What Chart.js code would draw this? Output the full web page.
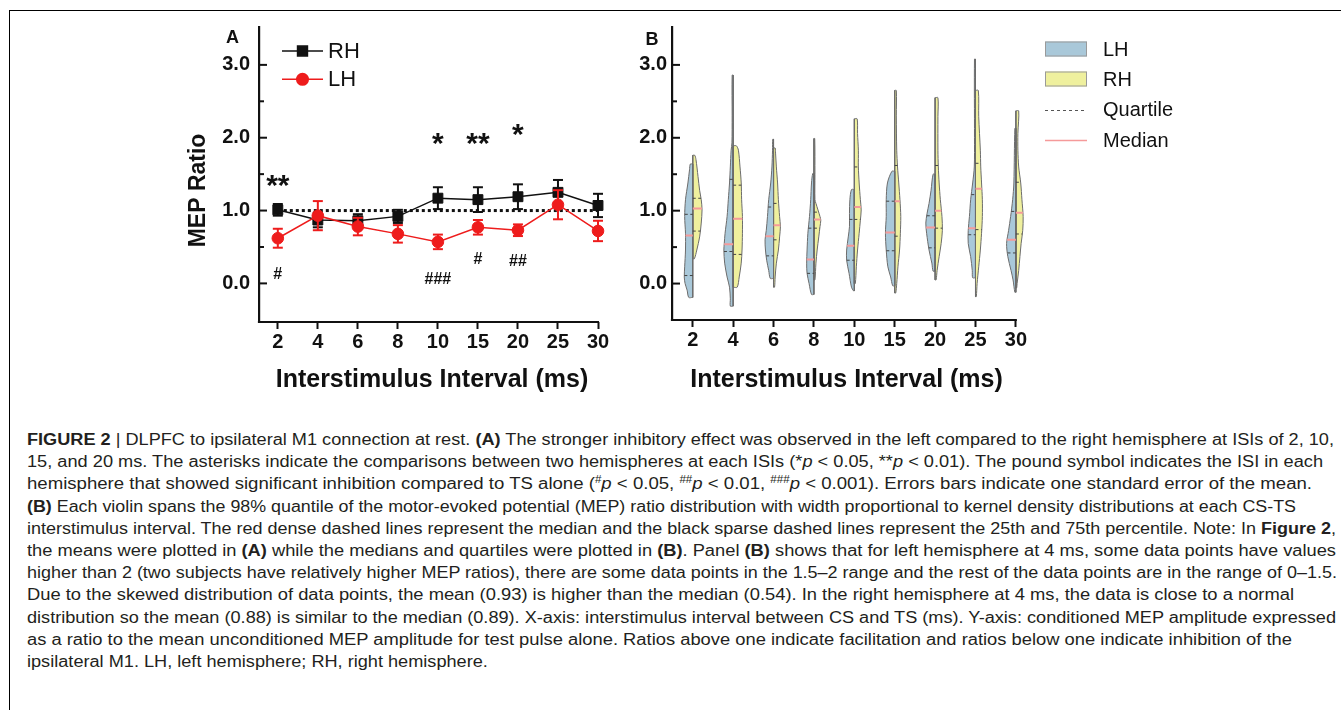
<!DOCTYPE html>
<html>
<head>
<meta charset="utf-8">
<script src="https://cdn.jsdelivr.net/npm/chart.js@4.4.0/dist/chart.umd.min.js"></script>
<style>
  html, body { margin: 0; padding: 0; background: #fff; }
  body { width: 1341px; height: 710px; position: relative; overflow: hidden; font-family: "Liberation Sans", Arial, sans-serif; }
  #frame { position: absolute; left: 9px; top: 10px; width: 1400px; height: 760px; border-left: 1px solid #000; border-top: 1px solid #000; }
  #chartA { position: absolute; left: 180px; top: 20px; }
  #chartB { position: absolute; left: 620px; top: 20px; }
  #caption { position: absolute; left: 27px; top: 429px; font-size: 16px; line-height: 22.2px; color: #231f20; white-space: nowrap; }
  #caption .l { display: inline-block; transform-origin: 0 0; }
  #caption sup { font-size: 10px; vertical-align: 6px; line-height: 0; }
</style>
</head>
<body>
<div id="frame"></div>
<canvas id="chartA" width="440" height="380"></canvas>
<canvas id="chartB" width="721" height="380"></canvas>
<div id="caption">
<div><span class="l"><b>FIGURE 2</b> | DLPFC to ipsilateral M1 connection at rest. <b>(A)</b> The stronger inhibitory effect was observed in the left compared to the right hemisphere at ISIs of 2, 10,</span></div>
<div><span class="l">15, and 20 ms. The asterisks indicate the comparisons between two hemispheres at each ISIs (*<i>p</i> &lt; 0.05, **<i>p</i> &lt; 0.01). The pound symbol indicates the ISI in each</span></div>
<div><span class="l">hemisphere that showed significant inhibition compared to TS alone (<sup>#</sup><i>p</i> &lt; 0.05, <sup>##</sup><i>p</i> &lt; 0.01, <sup>###</sup><i>p</i> &lt; 0.001). Errors bars indicate one standard error of the mean.</span></div>
<div><span class="l"><b>(B)</b> Each violin spans the 98% quantile of the motor-evoked potential (MEP) ratio distribution with width proportional to kernel density distributions at each CS-TS</span></div>
<div><span class="l">interstimulus interval. The red dense dashed lines represent the median and the black sparse dashed lines represent the 25th and 75th percentile. Note: In <b>Figure 2</b>,</span></div>
<div><span class="l">the means were plotted in <b>(A)</b> while the medians and quartiles were plotted in <b>(B)</b>. Panel <b>(B)</b> shows that for left hemisphere at 4 ms, some data points have values</span></div>
<div><span class="l">higher than 2 (two subjects have relatively higher MEP ratios), there are some data points in the 1.5–2 range and the rest of the data points are in the range of 0–1.5.</span></div>
<div><span class="l">Due to the skewed distribution of data points, the mean (0.93) is higher than the median (0.54). In the right hemisphere at 4 ms, the data is close to a normal</span></div>
<div><span class="l">distribution so the mean (0.88) is similar to the median (0.89). X-axis: interstimulus interval between CS and TS (ms). Y-axis: conditioned MEP amplitude expressed</span></div>
<div><span class="l">as a ratio to the mean unconditioned MEP amplitude for test pulse alone. Ratios above one indicate facilitation and ratios below one indicate inhibition of the</span></div>
<div><span class="l">ipsilateral M1. LH, left hemisphere; RH, right hemisphere.</span></div>
</div>
<script>
const isiLabels = ['2', '4', '6', '8', '10', '15', '20', '25', '30'];
const yTickValues = [0, 0.5, 1, 1.5, 2, 2.5, 3];
const refLevel = 1.0;

// panel A: mean MEP ratio +- SEM
const rhMean = [1.01, 0.87, 0.86, 0.92, 1.17, 1.15, 1.19, 1.25, 1.07];
const rhSem  = [0.08, 0.10, 0.09, 0.09, 0.15, 0.17, 0.17, 0.17, 0.16];
const lhMean = [0.62, 0.93, 0.78, 0.68, 0.57, 0.77, 0.73, 1.08, 0.72];
const lhSem  = [0.13, 0.20, 0.12, 0.12, 0.10, 0.10, 0.08, 0.20, 0.14];

// significance marks
const betweenMarks = ['**', '', '', '', '*', '**', '*', '', ''];
const betweenY     = [1.43, null, null, null, 2.0, 2.0, 2.12, null, null];
const withinMarks  = ['#', '', '', '', '###', '#', '##', '', ''];
const withinY      = [0.13, null, null, null, 0.07, 0.34, 0.31, null, null];

// panel B: violin outlines, [ratio, half width in category units], top to bottom
const lhOutline = [
  [[1.64,.06],[1.56,.08],[1.38,.12],[1.15,.18],[0.92,.20],[0.69,.18],[0.46,.18],[0.23,.20],[0.09,.21],[0,.19],[-0.09,.14],[-0.19,.10]],
  [[2.86,.025],[2.3,.025],[1.93,.03],[1.83,.05],[1.6,.07],[1.38,.09],[1.15,.12],[0.92,.15],[0.69,.20],[0.55,.22],[0.46,.23],[0.28,.21],[0.09,.15],[-0.05,.09],[-0.21,.07],[-0.31,.07]],
  [[1.98,.02],[1.83,.025],[1.6,.04],[1.38,.07],[1.15,.12],[0.92,.15],[0.73,.18],[0.6,.21],[0.46,.20],[0.32,.17],[0.18,.12],[0.07,.08]],
  [[1.51,.03],[1.38,.06],[1.15,.08],[0.92,.11],[0.69,.15],[0.46,.17],[0.28,.18],[0.14,.17],[0,.12],[-0.15,.06]],
  [[1.29,.07],[1.15,.11],[0.96,.12],[0.78,.12],[0.64,.15],[0.46,.19],[0.32,.19],[0.14,.13],[-0.05,.07],[-0.10,.02]],
  [[1.54,.07],[1.38,.18],[1.15,.21],[0.92,.21],[0.69,.23],[0.46,.21],[0.23,.17],[0.09,.10],[-0.03,.05]],
  [[1.5,.05],[1.28,.10],[1.1,.15],[0.96,.20],[0.83,.23],[0.69,.21],[0.46,.15],[0.28,.08],[0.17,.05]],
  [[3.08,.025],[2.0,.025],[1.6,.03],[1.38,.07],[1.15,.12],[0.92,.15],[0.73,.18],[0.55,.18],[0.37,.12],[0.18,.08],[0.08,.07]],
  [[2.13,.025],[1.38,.05],[1.15,.08],[0.92,.13],[0.73,.18],[0.55,.23],[0.37,.20],[0.18,.12],[0.05,.07],[-0.12,.025]]
];
const rhOutline = [
  [[1.76,.05],[1.70,.08],[1.47,.13],[1.28,.17],[1.15,.21],[1.01,.23],[0.83,.21],[0.64,.17],[0.46,.10],[0.34,.04]],
  [[1.89,.08],[1.83,.13],[1.6,.17],[1.38,.20],[1.15,.21],[0.92,.23],[0.69,.23],[0.46,.22],[0.28,.20],[0.09,.15],[-0.05,.10]],
  [[1.86,.04],[1.79,.05],[1.6,.07],[1.38,.10],[1.15,.12],[0.92,.15],[0.78,.17],[0.64,.15],[0.46,.12],[0.28,.07],[0.09,.04],[-0.05,.025]],
  [[1.99,.02],[1.5,.025],[1.15,.025],[1.1,.05],[1.01,.10],[0.92,.15],[0.87,.17],[0.78,.15],[0.64,.12],[0.46,.08],[0.28,.05],[0.05,.025]],
  [[2.26,.07],[2.06,.08],[1.83,.10],[1.6,.10],[1.38,.12],[1.15,.15],[1.01,.17],[0.87,.15],[0.69,.12],[0.46,.08],[0.23,.05],[0,.025]],
  [[2.65,.04],[2.3,.04],[1.83,.05],[1.6,.07],[1.38,.10],[1.15,.13],[0.92,.15],[0.69,.14],[0.46,.12],[0.23,.08],[0,.05],[-0.13,.025]],
  [[2.55,.07],[2.29,.07],[1.83,.07],[1.6,.08],[1.38,.10],[1.15,.13],[0.92,.17],[0.73,.18],[0.55,.15],[0.37,.10],[0.18,.05],[0.05,.025]],
  [[2.65,.07],[2.29,.08],[1.83,.12],[1.6,.13],[1.38,.15],[1.15,.17],[0.92,.17],[0.69,.15],[0.46,.12],[0.23,.08],[0,.04],[-0.18,.02]],
  [[2.37,.07],[2.06,.05],[1.83,.05],[1.6,.07],[1.38,.12],[1.15,.15],[0.92,.18],[0.73,.17],[0.55,.13],[0.37,.10],[0.18,.07],[0,.03],[-0.06,.02]]
];
const lhMedian = [0.66, 0.54, 0.65, 0.33, 0.52, 0.70, 0.77, 0.76, 0.60];
const lhQ1     = [0.11, 0.44, 0.38, 0.14, 0.32, 0.45, 0.49, 0.67, 0.42];
const lhQ3     = [0.95, 1.43, 1.05, 0.76, 0.88, 1.13, 0.93, 1.22, 0.99];
const rhMedian = [1.03, 0.89, 0.80, 0.88, 1.05, 1.13, 1.00, 1.30, 0.97];
const rhQ1     = [0.72, 0.40, 0.60, 0.76, 0.88, 0.65, 0.76, 0.74, 0.68];
const rhQ3     = [1.17, 1.35, 1.10, 0.98, 1.60, 1.62, 1.62, 1.65, 1.39];

const FONT = '"Liberation Sans", Arial, sans-serif';
const INK = '#111';
const RED = '#ee1c1c';
const BLUE = '#a9c8d9';
const YELLOW = '#eff09e';
const EDGE = '#6c6c6c';
const MEDIAN = '#f59a9a';

Chart.defaults.font.family = FONT;
Chart.defaults.color = INK;
Chart.defaults.animation = false;
Chart.defaults.events = [];
Chart.defaults.plugins.legend.display = false;
Chart.defaults.plugins.tooltip.enabled = false;

function seriesPts(mean) { return mean.map((m, i) => ({x: i, y: m})); }
function capPts(mean, sem) {
  const pts = [];
  mean.forEach((m, i) => pts.push({x: i, y: m - sem[i]}, {x: i, y: m + sem[i]}));
  return pts;
}
function stemPts(mean, sem) {
  const pts = [];
  mean.forEach((m, i) => pts.push({x: i, y: m - sem[i]}, {x: i, y: m + sem[i]}, {x: i, y: null}));
  return pts;
}

// y ticks point into the plot; the x axis line stops at the last ISI
const axisMarks = {
  id: 'axisMarks',
  afterDraw(chart) {
    const {ctx, chartArea, scales: {x, y}} = chart;
    ctx.save();
    ctx.strokeStyle = INK;
    ctx.lineWidth = 2;
    y.ticks.forEach(t => {
      const py = y.getPixelForValue(t.value);
      const len = Number.isInteger(t.value) ? 8 : 5;
      ctx.beginPath();
      ctx.moveTo(chartArea.left, py);
      ctx.lineTo(chartArea.left + len, py);
      ctx.stroke();
    });
    ctx.lineWidth = 2.2;
    ctx.beginPath();
    ctx.moveTo(chartArea.left - 1.1, chartArea.bottom);
    ctx.lineTo(x.getPixelForValue(isiLabels.length - 1) + 1, chartArea.bottom);
    ctx.stroke();
    ctx.restore();
  }
};

function axisConfig(xmin, xmax, ymin, ymax, yWidth, xHeight, yTitle, xTitle, yPad) {
  return {
    x: {
      type: 'linear', min: xmin, max: xmax,
      afterBuildTicks: s => { s.ticks = isiLabels.map((_, i) => ({value: i})); },
      afterFit: s => { s.height = xHeight; s.paddingLeft = 0; s.paddingRight = 0; },
      ticks: { callback: v => isiLabels[v], font: {size: 20, weight: 'bold'}, color: INK, padding: 1, maxRotation: 0, autoSkip: false },
      grid: { display: true, drawOnChartArea: false, drawTicks: true, tickLength: 7, tickColor: INK, tickWidth: 2 },
      border: { display: false },
      title: { display: true, text: xTitle, font: {size: 25, weight: 'bold'}, color: INK, padding: {top: 0, bottom: 5} }
    },
    y: {
      type: 'linear', min: ymin, max: ymax,
      afterBuildTicks: s => { s.ticks = yTickValues.map(v => ({value: v})); },
      afterFit: s => { s.width = yWidth; s.paddingTop = 0; s.paddingBottom = 0; },
      ticks: { callback: v => Number.isInteger(v) ? v.toFixed(1) : '', font: {size: 20, weight: 'bold'}, color: INK, padding: yPad },
      grid: { display: false, drawOnChartArea: false, drawTicks: false },
      border: { display: true, color: INK, width: 2.2 },
      title: { display: !!yTitle, text: yTitle, font: {size: 23, weight: 'bold'}, color: INK, padding: {top: 5, bottom: 0} }
    }
  };
}

// ---------- panel A ----------
const panelAExtras = {
  id: 'panelAExtras',
  afterDraw(chart) {
    const {ctx, scales: {x, y}} = chart;
    ctx.save();
    ctx.fillStyle = INK;
    ctx.textAlign = 'center';
    ctx.textBaseline = 'middle';
    ctx.font = 'bold 18px ' + FONT;
    ctx.fillText('A', 52.6, 18);
    // significance marks, centred on the glyph
    ctx.textBaseline = 'alphabetic';
    ctx.font = 'bold 30px ' + FONT;
    betweenMarks.forEach((m, i) => {
      if (m) ctx.fillText(m, x.getPixelForValue(i), y.getPixelForValue(betweenY[i]) + 15.5);
    });
    ctx.font = 'bold 16px ' + FONT;
    withinMarks.forEach((m, i) => {
      if (m) ctx.fillText(m, x.getPixelForValue(i), y.getPixelForValue(withinY[i]) + 5.5);
    });
    // legend: line with marker, same style as the series
    const items = [chart.data.datasets[3], chart.data.datasets[0]];
    items.forEach((ds, k) => {
      const cy = 31 + k * 28.3;
      ctx.strokeStyle = ds.borderColor;
      ctx.lineWidth = 1.5;
      ctx.beginPath(); ctx.moveTo(102, cy); ctx.lineTo(143, cy); ctx.stroke();
      ctx.fillStyle = ds.backgroundColor;
      Chart.helpers.drawPoint(ctx, {pointStyle: ds.pointStyle, radius: ds.pointRadius, rotation: 0, borderWidth: 1}, 122.5, cy);
      ctx.fillStyle = INK;
      ctx.textAlign = 'left';
      ctx.textBaseline = 'middle';
      ctx.font = '22px ' + FONT;
      ctx.fillText(ds.label, 148, cy + 1);
    });
    ctx.restore();
  }
};

new Chart(document.getElementById('chartA'), {
  type: 'line',
  data: {
    datasets: [
      { label: 'LH', data: seriesPts(lhMean), borderColor: RED, backgroundColor: RED, borderWidth: 1.5,
        pointStyle: 'circle', pointRadius: 5.8, pointBorderWidth: 1, pointBackgroundColor: RED, pointBorderColor: RED, tension: 0 },
      { label: 'LH caps', data: capPts(lhMean, lhSem), showLine: false, pointStyle: 'line',
        pointRadius: 5, pointBorderWidth: 2, pointBorderColor: RED },
      { label: 'LH sem', data: stemPts(lhMean, lhSem), borderColor: RED, borderWidth: 2, pointRadius: 0, spanGaps: false },
      { label: 'RH', data: seriesPts(rhMean), borderColor: INK, backgroundColor: INK, borderWidth: 1.5,
        pointStyle: 'rect', pointRadius: 7, pointBorderWidth: 1, pointBackgroundColor: INK, pointBorderColor: INK, tension: 0 },
      { label: 'RH caps', data: capPts(rhMean, rhSem), showLine: false, pointStyle: 'line',
        pointRadius: 5, pointBorderWidth: 2, pointBorderColor: INK },
      { label: 'RH sem', data: stemPts(rhMean, rhSem), borderColor: INK, borderWidth: 2, pointRadius: 0, spanGaps: false },
      { label: 'TS alone', data: [{x: 0, y: refLevel}, {x: isiLabels.length - 1, y: refLevel}],
        borderColor: INK, borderWidth: 3, borderDash: [3, 3], pointRadius: 0 }
    ].map(d => Object.assign(d, {clip: false}))
  },
  options: {
    responsive: false,
    layout: { autoPadding: false, padding: {left: 0, right: 22, top: 7, bottom: 0} },
    scales: axisConfig(-0.47, 8, -0.53, 3.52, 79, 78, 'MEP Ratio\u00a0\u00a0\u00a0\u00a0\u00a0', '\u00a0Interstimulus Interval (ms)', 9)
  },
  plugins: [axisMarks, panelAExtras]
});

// ---------- panel B ----------
function widthAt(outline, v) {
  for (let k = 0; k < outline.length - 1; k++) {
    const [v0, w0] = outline[k], [v1, w1] = outline[k + 1];
    if (v <= v0 && v >= v1) return w0 + (w1 - w0) * (v0 - v) / (v0 - v1);
  }
  return 0;
}

function halfViolin(i, outline, side, color) {
  const top = outline[0][0], bottom = outline[outline.length - 1][0];
  const pts = [{x: i, y: top}];
  outline.forEach(([v, w]) => pts.push({x: i + side * w, y: v}));
  pts.push({x: i, y: bottom});
  return { type: 'line', indexAxis: 'y', data: pts, fill: {value: i}, backgroundColor: color,
           borderColor: EDGE, borderWidth: 1, tension: 0.3, pointRadius: 0 };
}

const centerPts = [], medianPts = [], quartilePts = [];
isiLabels.forEach((_, i) => {
  [lhOutline[i], rhOutline[i]].forEach(o => {
    centerPts.push({x: i, y: o[0][0]}, {x: i, y: o[o.length - 1][0]}, {x: i, y: null});
  });
  medianPts.push({x: i - widthAt(lhOutline[i], lhMedian[i]), y: lhMedian[i]}, {x: i, y: lhMedian[i]}, {x: i, y: null});
  medianPts.push({x: i, y: rhMedian[i]}, {x: i + widthAt(rhOutline[i], rhMedian[i]), y: rhMedian[i]}, {x: i, y: null});
  [lhQ1[i], lhQ3[i]].forEach(q => quartilePts.push({x: i - widthAt(lhOutline[i], q), y: q}, {x: i, y: q}, {x: i, y: null}));
  [rhQ1[i], rhQ3[i]].forEach(q => quartilePts.push({x: i, y: q}, {x: i + widthAt(rhOutline[i], q), y: q}, {x: i, y: null}));
});

const violinSets = [];
isiLabels.forEach((_, i) => {
  violinSets.push(halfViolin(i, lhOutline[i], -1, BLUE));
  violinSets.push(halfViolin(i, rhOutline[i], 1, YELLOW));
});

const panelBExtras = {
  id: 'panelBExtras',
  afterDraw(chart) {
    const {ctx} = chart;
    ctx.save();
    ctx.fillStyle = INK;
    ctx.textAlign = 'center';
    ctx.textBaseline = 'middle';
    ctx.font = 'bold 18px ' + FONT;
    ctx.fillText('B', 32, 20);
    const lx = 425, lw = 42, tx = 483;
    ctx.font = '20px ' + FONT;
    ctx.textAlign = 'left';
    [['LH', BLUE, 29], ['RH', YELLOW, 59]].forEach(([t, c, cy]) => {
      ctx.fillStyle = c;
      ctx.fillRect(lx, cy - 7.5, lw, 15);
      ctx.strokeStyle = '#9a9a9a';
      ctx.lineWidth = 1;
      ctx.strokeRect(lx + 0.5, cy - 7, lw - 1, 14);
      ctx.fillStyle = INK;
      ctx.fillText(t, tx, cy + 1);
    });
    ctx.strokeStyle = '#555';
    ctx.lineWidth = 1;
    ctx.setLineDash([3, 3]);
    ctx.beginPath(); ctx.moveTo(lx, 90.5); ctx.lineTo(lx + lw, 90.5); ctx.stroke();
    ctx.setLineDash([]);
    ctx.strokeStyle = MEDIAN;
    ctx.lineWidth = 1.5;
    ctx.beginPath(); ctx.moveTo(lx, 120.5); ctx.lineTo(lx + lw, 120.5); ctx.stroke();
    ctx.fillStyle = INK;
    ctx.fillText('Quartile', tx, 90);
    ctx.fillText('Median', tx, 121);
    ctx.restore();
  }
};

new Chart(document.getElementById('chartB'), {
  type: 'line',
  data: {
    datasets: [
      { label: 'Median', data: medianPts, borderColor: MEDIAN, borderWidth: 2, pointRadius: 0, spanGaps: false },
      { label: 'Quartile', data: quartilePts, borderColor: '#444', borderWidth: 1, borderDash: [3, 2.5], pointRadius: 0, spanGaps: false },
      { label: 'center', data: centerPts, borderColor: EDGE, borderWidth: 1, pointRadius: 0, spanGaps: false },
      ...violinSets
    ].map(d => Object.assign(d, {clip: false}))
  },
  options: {
    responsive: false,
    layout: { autoPadding: false, padding: {left: 0, right: 313, top: 7, bottom: 0} },
    scales: axisConfig(-0.514, 8.3, -0.5, 3.52, 52, 80, '', 'Interstimulus Interval (ms)\u00a0', 5)
  },
  plugins: [axisMarks, panelBExtras]
});

// fit each caption line to where it ends in the figure
const lineEnds = [1334, 1323, 1312, 1296, 1336, 1336, 1337, 1294, 1336, 1292, null];
const spans = document.querySelectorAll('#caption .l');
const baseScale = (lineEnds[0] - 27) / spans[0].getBoundingClientRect().width;
spans.forEach((s, k) => {
  const w = s.getBoundingClientRect().width;
  const f = lineEnds[k] ? (lineEnds[k] - 27) / w : baseScale;
  s.style.transform = 'scaleX(' + f + ')';
});
</script>
</body>
</html>
